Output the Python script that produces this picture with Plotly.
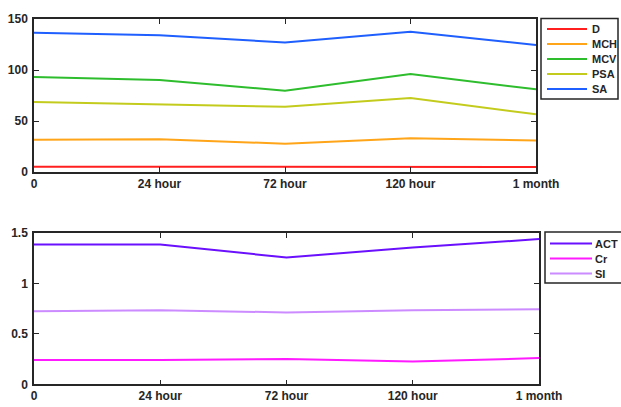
import plotly.graph_objects as go
from plotly.subplots import make_subplots

W, H = 621, 407

categories = ["0", "24 hour", "72 hour", "120 hour", "1 month"]

# top panel series
top_names = ["D", "MCH", "MCV", "PSA", "SA"]
D = [5.2, 5.1, 5.0, 5.5, 5.0]
MCH = [31.7, 32.0, 27.8, 33.0, 31.0]
MCV = [93.1, 90.2, 79.7, 96.0, 81.0]
PSA = [68.6, 66.0, 64.0, 72.5, 56.6]
SA = [136.5, 134.0, 127.0, 137.5, 124.5]
top_values = [D, MCH, MCV, PSA, SA]
top_colors = ["#ff1f1f", "#ffa51a", "#2dbd2d", "#c3cc1c", "#1f5fff"]

# bottom panel series
bot_names = ["ACT", "Cr", "SI"]
ACT = [1.386, 1.386, 1.257, 1.356, 1.44]
Cr = [0.24, 0.24, 0.25, 0.225, 0.26]
SI = [0.723, 0.733, 0.713, 0.735, 0.743]
bot_values = [ACT, Cr, SI]
bot_colors = ["#6a10ff", "#ff1aff", "#cc8cff"]

top_yticks = [0, 50, 100, 150]
bot_yticks = [0, 0.5, 1, 1.5]

FONT = "Liberation Sans, Arial, sans-serif"
AX = "#262626"

fig = make_subplots(rows=2, cols=1)

for name, vals, col in zip(top_names, top_values, top_colors):
    fig.add_trace(go.Scatter(x=categories, y=vals, mode="lines", name=name,
                             line=dict(color=col, width=2), showlegend=False), row=1, col=1)
for name, vals, col in zip(bot_names, bot_values, bot_colors):
    fig.add_trace(go.Scatter(x=categories, y=vals, mode="lines", name=name,
                             line=dict(color=col, width=2), showlegend=False), row=2, col=1)

def px(x):
    return x / W

def py(y):
    return 1 - y / H

axis_common = dict(showline=True, mirror="ticks", linecolor=AX, linewidth=1.5,
                   ticks="inside", ticklen=5, tickwidth=1.3, tickcolor=AX,
                   showgrid=False, zeroline=False, automargin=False,
                   tickfont=dict(family=FONT, size=12, color=AX, weight="bold"))

fig.update_layout(
    width=W, height=H,
    margin=dict(l=0, r=0, t=0, b=0),
    paper_bgcolor="white", plot_bgcolor="white",
    xaxis=dict(domain=[px(34), px(536)], type="category", range=[0, 4], **axis_common),
    yaxis=dict(domain=[py(172), py(19)], range=[0, 150], tickvals=top_yticks,
               ticklabelstandoff=2, **axis_common),
    xaxis2=dict(domain=[px(34), px(539)], type="category", range=[0, 4], **axis_common),
    yaxis2=dict(domain=[py(384.3), py(233)], range=[0, 1.5], tickvals=bot_yticks,
                ticktext=["0", "0.5", "1", "1.5"], ticklabelstandoff=2, **axis_common),
)

shapes = []
annotations = []

def add_legend(names, colors, box, y0, dy, lx0, lx1, tx):
    x0b, y0b, x1b, y1b = box
    shapes.append(dict(type="rect", xref="paper", yref="paper",
                       x0=px(x0b), x1=px(x1b), y0=py(y1b), y1=py(y0b),
                       line=dict(color=AX, width=1.5), fillcolor="white", layer="above"))
    for i, (n, c) in enumerate(zip(names, colors)):
        yy = y0 + i * dy
        shapes.append(dict(type="line", xref="paper", yref="paper",
                           x0=px(lx0), x1=px(lx1), y0=py(yy), y1=py(yy),
                           line=dict(color=c, width=2), layer="above"))
        annotations.append(dict(xref="paper", yref="paper", x=px(tx), y=py(yy),
                                xanchor="left", yanchor="middle", showarrow=False,
                                xshift=-2,
                                text=n, font=dict(family=FONT, size=11, color=AX, weight="bold")))

add_legend(top_names, top_colors, (541, 18.5, 618, 99), 29, 15, 547, 587, 592)
add_legend(bot_names, bot_colors, (545, 232, 623, 283), 243.5, 15, 550, 592, 595)

fig.update_layout(shapes=shapes, annotations=annotations)

fig.write_html("out.html", config={"displayModeBar": False},
               post_script="document.body.style.margin='0';document.body.style.overflow='hidden';")
